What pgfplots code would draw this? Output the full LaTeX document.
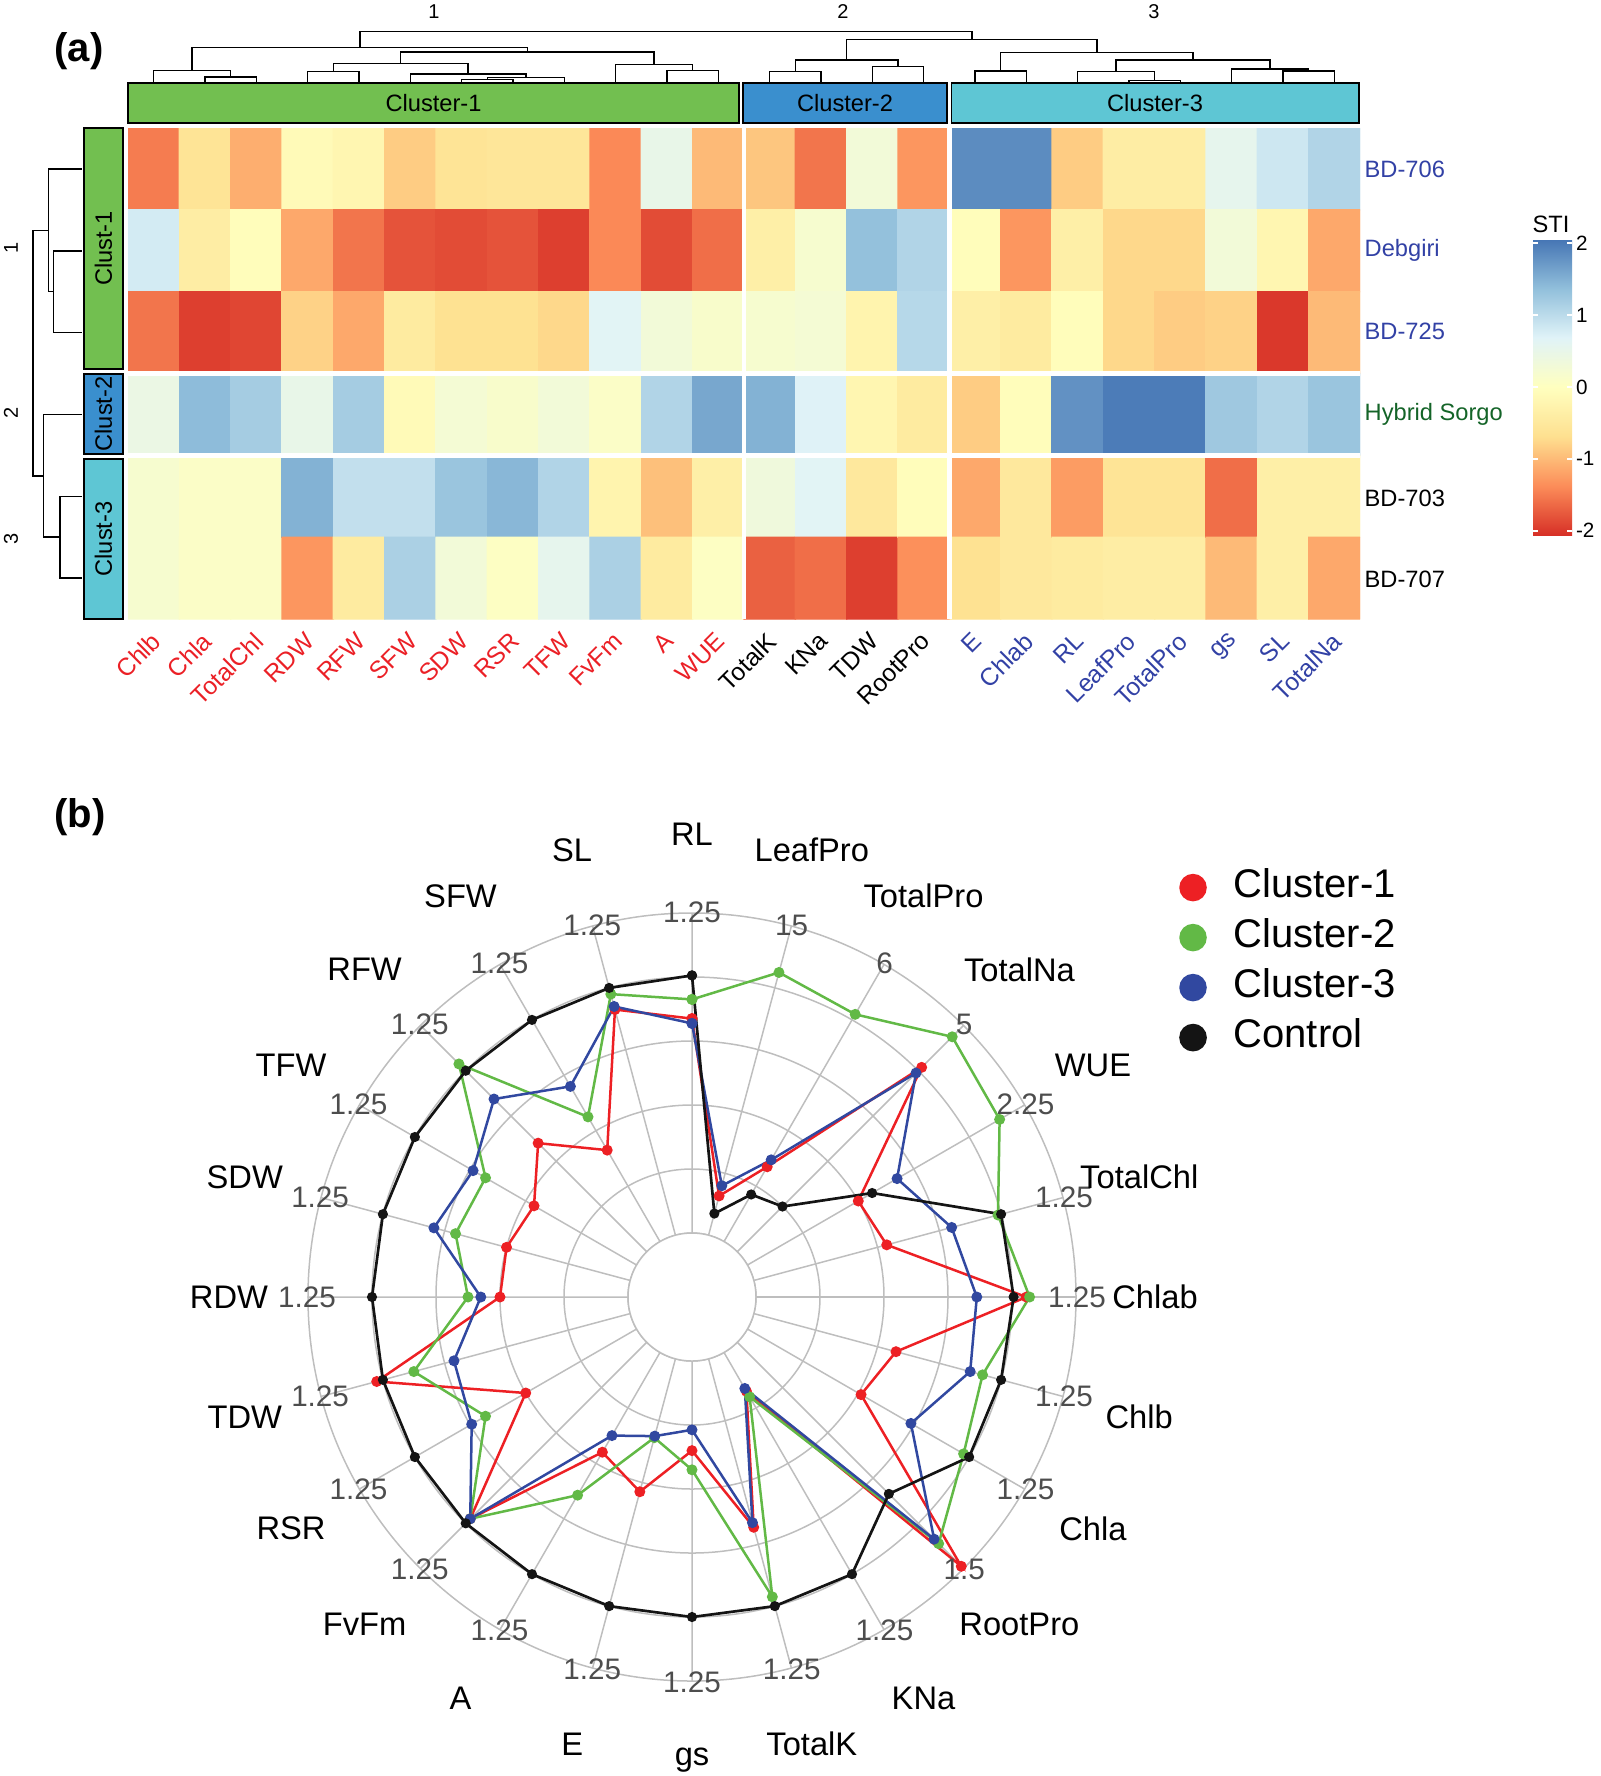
\documentclass[border=0pt]{standalone}
\usepackage{fontspec}
\setmainfont{Liberation Sans}
\usepackage{pgfplots}
\usepackage{pgfplotstable}
\pgfplotsset{compat=1.18}
\usepgfplotslibrary{polar}
\usetikzlibrary{calc}

\definecolor{cl1}{RGB}{114,191,80}
\definecolor{cl2}{RGB}{58,143,206}
\definecolor{cl3}{RGB}{94,198,212}
\definecolor{labred}{RGB}{235,32,38}
\definecolor{labblue}{RGB}{50,65,165}
\definecolor{labgreen}{RGB}{20,100,40}
\definecolor{gridgray}{RGB}{190,190,190}
\definecolor{tickgray}{RGB}{77,77,77}
\definecolor{rred}{RGB}{237,32,36}
\definecolor{rgreen}{RGB}{98,185,70}
\definecolor{rblue}{RGB}{49,72,160}
\definecolor{rblack}{RGB}{20,20,20}

\pgfplotsset{
  colormap={rdylbu}{rgb255=(215,48,39) rgb255=(252,141,89) rgb255=(254,224,144)
    rgb255=(255,255,191) rgb255=(224,243,248) rgb255=(145,191,219) rgb255=(69,117,180)},
}

\newcommand{\hmfont}{\fontsize{7.1}{8}\selectfont}
\newcommand{\colfont}{\fontsize{7.4}{8}\selectfont}
\newcommand{\cutfont}{\fontsize{6}{7}\selectfont}

% radar: normalised distance from the inner hole (0) to the outer ring (1)
\pgfplotstableread{
ang  c1    c2    c3    ctrl
90   0.67  0.73  0.655 0.805
75   0.127 0.85  0.16  0.07
60   0.27  0.82  0.295 0.17
45   0.815 0.95  0.79  0.20
30   0.40  0.91  0.54  0.45
15   0.43  0.79  0.64  0.80
0    0.845 0.855 0.69  0.805
345  0.46  0.74  0.70  0.80
330  0.41  0.78  0.59  0.80
315  0.99  0.89  0.87  0.67
300  0.14  0.16  0.13  0.80
285  0.545 0.77  0.53  0.80
270  0.28  0.34  0.215 0.80
255  0.43  0.255 0.25  0.80
240  0.36  0.515 0.30  0.80
225  0.78  0.78  0.78  0.80
210  0.40  0.545 0.595 0.80
195  0.82  0.70  0.57  0.80
180  0.40  0.50  0.46  0.80
165  0.40  0.565 0.635 0.80
150  0.37  0.545 0.59  0.80
135  0.48  0.83  0.675 0.80
120  0.33  0.45  0.56  0.80
105  0.73  0.78  0.74  0.80
90   0.67  0.73  0.655 0.805
}\radar

\begin{document}
\begin{tikzpicture}
\useasboundingbox (0,0) rectangle (480pt,-532.8pt);

% ---------------- heatmap ----------------
\begin{axis}[
  at={(38.4pt,-38.4pt)}, anchor=north west,
  scale only axis, width=369.6pt, height=147.3pt,
  xmin=0, xmax=24, ymin=0, ymax=6, y dir=reverse,
  xtick=\empty, ytick=\empty, axis line style={draw=none},
  colormap name=rdylbu,
  point meta min=-2.06, point meta max=2.06,
  colorbar,
  colorbar shift/.style={},
  colorbar style={
    at={(parent axis.north east)}, anchor=north west,
    xshift=51.9pt, yshift=-33.3pt,
    scale only axis, width=11.7pt, height=88.8pt,
    ytick={-2,-1,0,1,2}, yticklabels={-2,-1,0,1,2},
    ytick pos=both, yticklabel pos=right,
    yticklabel style={font=\fontsize{6.2}{7}\selectfont, inner xsep=1pt},
    major tick length=1.5pt, tick align=inside,
    tick style={white, line width=0.6pt},
    axis line style={draw=none},
  },
]
\addplot[matrix plot*, mesh/cols=24, point meta=explicit] coordinates {
(0.5,0.5)[-1.5] (1.5,0.5)[-0.6] (2.5,0.5)[-1.1] (3.5,0.5)[-0.1] (4.5,0.5)[-0.2] (5.5,0.5)[-0.85] (6.5,0.5)[-0.6] (7.5,0.5)[-0.55] (8.5,0.5)[-0.55] (9.5,0.5)[-1.4] (10.5,0.5)[0.5] (11.5,0.5)[-1.0] (12.5,0.5)[-0.9] (13.5,0.5)[-1.55] (14.5,0.5)[0.3] (15.5,0.5)[-1.3] (16.5,0.5)[1.85] (17.5,0.5)[1.85] (18.5,0.5)[-0.85] (19.5,0.5)[-0.4] (20.5,0.5)[-0.4] (21.5,0.5)[0.55] (22.5,0.5)[0.85] (23.5,0.5)[1.1]

(0.5,1.5)[0.8] (1.5,1.5)[-0.4] (2.5,1.5)[-0.05] (3.5,1.5)[-1.15] (4.5,1.5)[-1.55] (5.5,1.5)[-1.8] (6.5,1.5)[-1.85] (7.5,1.5)[-1.8] (8.5,1.5)[-1.95] (9.5,1.5)[-1.4] (10.5,1.5)[-1.85] (11.5,1.5)[-1.6] (12.5,1.5)[-0.35] (13.5,1.5)[0.2] (14.5,1.5)[1.35] (15.5,1.5)[1.1] (16.5,1.5)[-0.05] (17.5,1.5)[-1.3] (18.5,1.5)[-0.35] (19.5,1.5)[-0.75] (20.5,1.5)[-0.75] (21.5,1.5)[0.3] (22.5,1.5)[-0.2] (23.5,1.5)[-1.15]

(0.5,2.5)[-1.55] (1.5,2.5)[-1.95] (2.5,2.5)[-1.9] (3.5,2.5)[-0.8] (4.5,2.5)[-1.15] (5.5,2.5)[-0.45] (6.5,2.5)[-0.65] (7.5,2.5)[-0.65] (8.5,2.5)[-0.75] (9.5,2.5)[0.65] (10.5,2.5)[0.3] (11.5,2.5)[0.15] (12.5,2.5)[0.2] (13.5,2.5)[0.25] (14.5,2.5)[-0.25] (15.5,2.5)[1.05] (16.5,2.5)[-0.35] (17.5,2.5)[-0.45] (18.5,2.5)[-0.05] (19.5,2.5)[-0.75] (20.5,2.5)[-0.85] (21.5,2.5)[-0.8] (22.5,2.5)[-2.0] (23.5,2.5)[-1.0]

(0.5,3.5)[0.45] (1.5,3.5)[1.4] (2.5,3.5)[1.2] (3.5,3.5)[0.5] (4.5,3.5)[1.2] (5.5,3.5)[-0.1] (6.5,3.5)[0.25] (7.5,3.5)[0.15] (8.5,3.5)[0.3] (9.5,3.5)[0.1] (10.5,3.5)[1.1] (11.5,3.5)[1.6] (12.5,3.5)[1.5] (13.5,3.5)[0.7] (14.5,3.5)[-0.2] (15.5,3.5)[-0.45] (16.5,3.5)[-0.85] (17.5,3.5)[-0.05] (18.5,3.5)[1.8] (19.5,3.5)[2.0] (20.5,3.5)[2.0] (21.5,3.5)[1.25] (22.5,3.5)[1.1] (23.5,3.5)[1.3]

(0.5,4.5)[0.2] (1.5,4.5)[0.1] (2.5,4.5)[0.1] (3.5,4.5)[1.5] (4.5,4.5)[0.95] (5.5,4.5)[0.95] (6.5,4.5)[1.3] (7.5,4.5)[1.45] (8.5,4.5)[1.1] (9.5,4.5)[-0.25] (10.5,4.5)[-0.95] (11.5,4.5)[-0.35] (12.5,4.5)[0.35] (13.5,4.5)[0.65] (14.5,4.5)[-0.5] (15.5,4.5)[-0.05] (16.5,4.5)[-1.15] (17.5,4.5)[-0.5] (18.5,4.5)[-1.25] (19.5,4.5)[-0.6] (20.5,4.5)[-0.6] (21.5,4.5)[-1.6] (22.5,4.5)[-0.35] (23.5,4.5)[-0.35]

(0.5,5.5)[0.2] (1.5,5.5)[0.1] (2.5,5.5)[0.1] (3.5,5.5)[-1.3] (4.5,5.5)[-0.45] (5.5,5.5)[1.15] (6.5,5.5)[0.3] (7.5,5.5)[0.05] (8.5,5.5)[0.55] (9.5,5.5)[1.15] (10.5,5.5)[-0.45] (11.5,5.5)[0.05] (12.5,5.5)[-1.7] (13.5,5.5)[-1.6] (14.5,5.5)[-1.95] (15.5,5.5)[-1.35] (16.5,5.5)[-0.65] (17.5,5.5)[-0.5] (18.5,5.5)[-0.45] (19.5,5.5)[-0.4] (20.5,5.5)[-0.4] (21.5,5.5)[-1.0] (22.5,5.5)[-0.35] (23.5,5.5)[-1.15]
};
\draw[white, line width=1.3pt] (axis cs:12,0) -- (axis cs:12,6);
\draw[white, line width=1.3pt] (axis cs:16,0) -- (axis cs:16,6);
\draw[white, line width=1.5pt] (axis cs:0,3) -- (axis cs:24,3);
\draw[white, line width=1.5pt] (axis cs:0,4) -- (axis cs:24,4);
\end{axis}

% column dendrogram
\begin{axis}[
  at={(38.4pt,-24.6pt)}, anchor=south west,
  scale only axis, width=369.6pt, height=15.09pt,
  xmin=0, xmax=24, ymin=0, ymax=50.3,
  hide axis, clip=false, unbounded coords=jump,
]
\addplot[black, line width=0.45pt, mark=none] coordinates {
(1.5,0)(1.5,5)(2.5,5)(2.5,0) (nan,nan)
(0.5,0)(0.5,11.3)(2,11.3)(2,5) (nan,nan)
(3.5,0)(3.5,10.3)(4.5,10.3)(4.5,0) (nan,nan)
(6.5,0)(6.5,2.7)(7.5,2.7)(7.5,0) (nan,nan)
(7,2.7)(7,4.7)(8.5,4.7)(8.5,0) (nan,nan)
(5.5,0)(5.5,8)(7.75,8)(7.75,4.7) (nan,nan)
(4,10.3)(4,18.7)(6.625,18.7)(6.625,8) (nan,nan)
(10.5,0)(10.5,11.3)(11.5,11.3)(11.5,0) (nan,nan)
(9.5,0)(9.5,17.7)(11,17.7)(11,11.3) (nan,nan)
(5.3125,18.7)(5.3125,30)(10.25,30)(10.25,17.7) (nan,nan)
(1.25,11.3)(1.25,34.7)(7.78125,34.7)(7.78125,30) (nan,nan)
(12.5,0)(12.5,10.3)(13.5,10.3)(13.5,0) (nan,nan)
(14.5,0)(14.5,15.3)(15.5,15.3)(15.5,0) (nan,nan)
(13,10.3)(13,22)(15,22)(15,15.3) (nan,nan)
(16.5,0)(16.5,11)(17.5,11)(17.5,0) (nan,nan)
(19.5,0)(19.5,1.3)(20.5,1.3)(20.5,0) (nan,nan)
(18.5,0)(18.5,10.3)(20,10.3)(20,1.3) (nan,nan)
(22.5,0)(22.5,11)(23.5,11)(23.5,0) (nan,nan)
(21.5,0)(21.5,13)(23,13)(23,11) (nan,nan)
(19.25,10.3)(19.25,22)(22.25,22)(22.25,13) (nan,nan)
(17,11)(17,29.3)(20.75,29.3)(20.75,22) (nan,nan)
(14,22)(14,42.7)(18.875,42.7)(18.875,29.3) (nan,nan)
(4.515625,34.7)(4.515625,50.3)(16.4375,50.3)(16.4375,42.7)
};
\end{axis}

% row dendrogram
\begin{axis}[
  at={(9.96pt,-38.4pt)}, anchor=north west,
  scale only axis, width=14.64pt, height=147.3pt,
  xmin=0, xmax=48.8, x dir=reverse, ymin=0, ymax=6, y dir=reverse,
  hide axis, clip=false, unbounded coords=jump,
]
\addplot[black, line width=0.45pt, mark=none] coordinates {
(0,1.5)(28.4,1.5)(28.4,2.5)(0,2.5) (nan,nan)
(0,0.5)(33.5,0.5)(33.5,2)(28.4,2) (nan,nan)
(0,4.5)(21.8,4.5)(21.8,5.5)(0,5.5) (nan,nan)
(0,3.5)(38.6,3.5)(38.6,5)(21.8,5) (nan,nan)
(33.5,1.25)(48.8,1.25)(48.8,4.25)(38.6,4.25)
};
\end{axis}

\begin{scope}[x=0.3pt,y=-0.3pt]
  % column annotation
  \draw[line width=0.5pt, fill=cl1] (128,83) rectangle (739,123);
  \draw[line width=0.5pt, fill=cl2] (743,83) rectangle (947,123);
  \draw[line width=0.5pt, fill=cl3] (951.5,83) rectangle (1359,123);
  \node[font=\hmfont] at (433.5,103) {Cluster-1};
  \node[font=\hmfont] at (845,103) {Cluster-2};
  \node[font=\hmfont] at (1155,103) {Cluster-3};
  % row annotation
  \draw[line width=0.5pt, fill=cl1] (84,128) rectangle (123,369);
  \draw[line width=0.5pt, fill=cl2] (84,374) rectangle (123,454);
  \draw[line width=0.5pt, fill=cl3] (84,459) rectangle (123,619);
  \node[font=\hmfont, rotate=90] at (103.5,248.5) {Clust-1};
  \node[font=\hmfont, rotate=90] at (103.5,414) {Clust-2};
  \node[font=\hmfont, rotate=90] at (103.5,539) {Clust-3};
  % row labels
  \node[font=\hmfont, text=labblue, anchor=west, inner sep=0pt] at (1364,169) {BD-706};
  \node[font=\hmfont, text=labblue, anchor=west, inner sep=0pt] at (1364,250) {Debgiri};
  \node[font=\hmfont, text=labblue, anchor=west, inner sep=0pt] at (1364,331) {BD-725};
  \node[font=\hmfont, text=labgreen, anchor=west, inner sep=0pt] at (1364,414) {Hybrid Sorgo};
  \node[font=\hmfont, anchor=west, inner sep=0pt] at (1364,498) {BD-703};
  \node[font=\hmfont, anchor=west, inner sep=0pt] at (1364,579) {BD-707};
  % column labels
  \foreach \lab [count=\i from 0] in {Chlb,Chla,TotalChl,RDW,RFW,SFW,SDW,RSR,TFW,FvFm,A,WUE}
    \node[font=\colfont, text=labred, rotate=45, anchor=north east, inner sep=0pt]
      at ({128+51.333*(\i+0.5)-4},630) {\lab};
  \foreach \lab [count=\i from 12] in {TotalK,KNa,TDW,RootPro}
    \node[font=\colfont, rotate=45, anchor=north east, inner sep=0pt]
      at ({128+51.333*(\i+0.5)-4},630) {\lab};
  \foreach \lab [count=\i from 16] in {E,Chlab,RL,LeafPro,TotalPro,gs,SL,TotalNa}
    \node[font=\colfont, text=labblue, rotate=45, anchor=north east, inner sep=0pt]
      at ({128+51.333*(\i+0.5)-4},630) {\lab};
  % cut labels
  \node[font=\cutfont] at (434,12) {1};
  \node[font=\cutfont] at (843,12) {2};
  \node[font=\cutfont] at (1154,12) {3};
  \node[font=\cutfont, rotate=90] at (11,248) {1};
  \node[font=\cutfont, rotate=90] at (11,413) {2};
  \node[font=\cutfont, rotate=90] at (11,539) {3};
  % legend title and panel letters
  \node[font=\hmfont, anchor=south west, inner sep=0pt] at (1532,233) {STI};
  \node[font=\fontsize{12}{14}\selectfont\bfseries, anchor=west, inner sep=0pt] at (54,51) {(a)};
  \node[font=\fontsize{12}{14}\selectfont\bfseries, anchor=west, inner sep=0pt] at (54,817) {(b)};
\end{scope}

% ---------------- radar ----------------
\begin{polaraxis}[
  at={(207.6pt,-389.1pt)}, anchor=center,
  scale only axis, width=230.4pt, height=230.4pt,
  xmin=0, xmax=360, ymin=0, ymax=6,
  xtick={0,15,...,345}, ytick={1,2,3,4,5},
  xticklabels={}, yticklabels={},
  grid=major, major grid style={gridgray, line width=0.45pt},
  axis line style={gridgray, line width=0.45pt},
  major tick length=0pt, clip=false,
  legend style={at={(1.1335,1.06)}, anchor=north west, draw=none, fill=none,
    font=\fontsize{12}{14}\selectfont, inner sep=0pt, column sep=8pt, row sep=3pt,
    nodes={inner sep=0pt, text height=9pt, text depth=3pt}},
  legend cell align=left,
  legend image code/.code={\fill[#1] (0pt,0pt) circle (3.75pt);},
]
\addplot[rred, line width=0.75pt, mark=*, mark size=1.25pt]
  table[x=ang, y expr={1+5*\thisrow{c1}}] {\radar};
\addplot[rgreen, line width=0.75pt, mark=*, mark size=1.25pt]
  table[x=ang, y expr={1+5*\thisrow{c2}}] {\radar};
\addplot[rblue, line width=0.75pt, mark=*, mark size=1.25pt]
  table[x=ang, y expr={1+5*\thisrow{c3}}] {\radar};
\addplot[rblack, line width=0.8pt, mark=*, mark size=1.1pt]
  table[x=ang, y expr={1+5*\thisrow{ctrl}}] {\radar};
\legend{Cluster-1,Cluster-2,Cluster-3,Control}
\end{polaraxis}

\draw[gridgray, line width=0.45pt, fill=white] (207.6pt,-389.1pt) circle (19.2pt);

\foreach \a/\lab/\tk in {90/RL/1.25, 75/LeafPro/15, 60/TotalPro/6, 45/TotalNa/5,
    30/WUE/2.25, 15/TotalChl/1.25, 0/Chlab/1.25, -15/Chlb/1.25, -30/Chla/1.25,
    -45/RootPro/1.5, -60/KNa/1.25, -75/TotalK/1.25, -90/gs/1.25, -105/E/1.25,
    -120/A/1.25, -135/FvFm/1.25, -150/RSR/1.25, -165/TDW/1.25, 180/RDW/1.25,
    165/SDW/1.25, 150/TFW/1.25, 135/RFW/1.25, 120/SFW/1.25, 105/SL/1.25}{
  \path (207.6pt,-389.1pt) ++(\a:115.5pt)
    node[text=tickgray, font=\fontsize{8.9}{10}\selectfont, inner sep=0pt] {\tk};
  \path (207.6pt,-389.1pt) ++(\a:138.9pt)
    node[font=\fontsize{9.8}{11}\selectfont, inner sep=0pt] {\lab};
}
\end{tikzpicture}
\end{document}
